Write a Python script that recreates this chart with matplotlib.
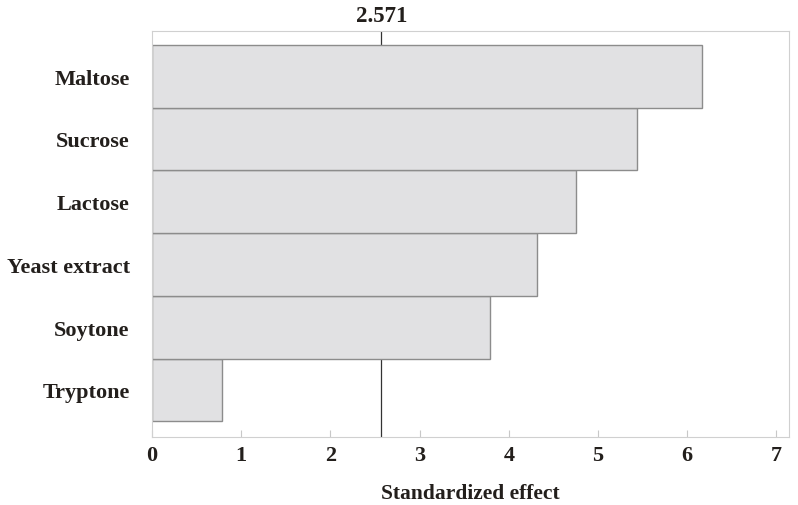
import matplotlib.pyplot as plt

factors = ['Tryptone', 'Soytone', 'Yeast extract', 'Lactose', 'Sucrose', 'Maltose']
effects = [0.78, 3.79, 4.31, 4.75, 5.44, 6.17]
t_crit = 2.571

plt.rcParams['font.family'] = 'Liberation Serif'
plt.rcParams['font.weight'] = 'bold'

fig = plt.figure(figsize=(7.98, 5.06), dpi=100)
ax = fig.add_axes([0.1905, 0.1344, 0.7982, 0.8024])

ax.barh(range(len(factors)), effects, height=1.0, color='#e1e1e3',
        edgecolor='#8c8c8c', linewidth=1.0, zorder=2)
# reference line sits behind the bars
ax.axvline(t_crit, color='#333333', linewidth=0.9, zorder=1)
ax.text(t_crit, 5.80, '2.571', ha='center', va='bottom', fontsize=16.5,
        fontweight='bold', color='#231f1c')

ax.set_xlim(0, 7.14)
ax.set_ylim(-0.75, 5.72)
ax.set_xticks(range(8))
ax.set_yticks(range(len(factors)))
ax.set_yticklabels(factors)

for s in ax.spines.values():
    s.set_color('#d0d0d0')
ax.tick_params(axis='x', direction='in', length=5, color='#c8c8c8',
               labelsize=16, pad=6, labelcolor='#231f1c')
ax.tick_params(axis='y', direction='in', length=3, color='#d8d8d8',
               labelsize=16, pad=16, labelcolor='#231f1c')
ax.set_xlabel('Standardized effect', fontsize=15.5, fontweight='bold',
              color='#231f1c', labelpad=13)

fig.savefig('out.png', dpi=100)
